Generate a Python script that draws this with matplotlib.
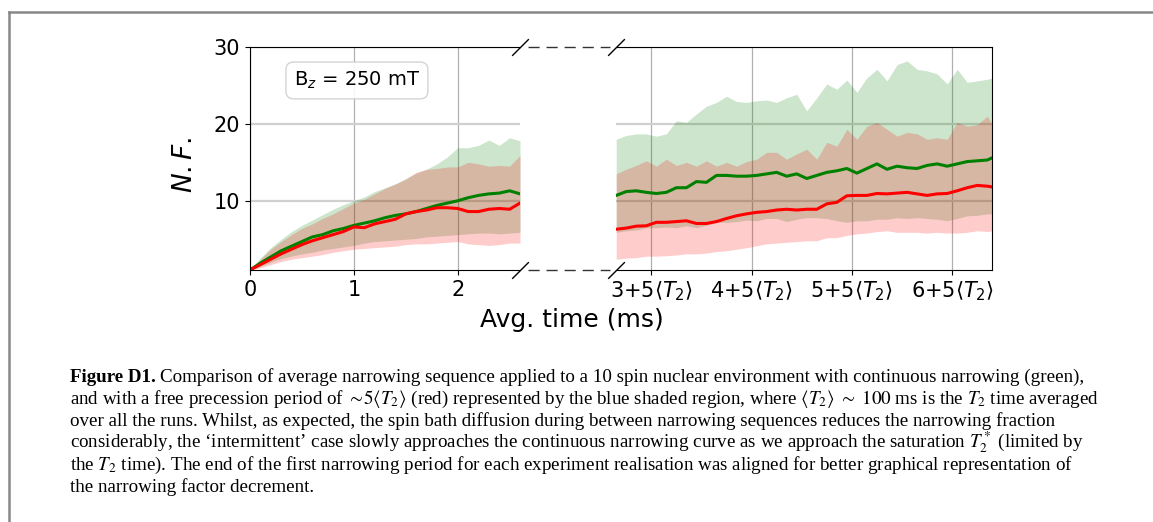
import numpy as np
import matplotlib
matplotlib.use("Agg")
import matplotlib.pyplot as plt
from matplotlib.lines import Line2D

# ---- data ----
# first panel: continuous narrowing (green) vs intermittent (red)
t_left = np.linspace(0, 2.6, 27)
green_mean_l = [1.0, 1.9, 2.7, 3.5, 4.1, 4.7, 5.3, 5.6, 6.1, 6.4, 6.8, 7.1, 7.4, 7.8,
                8.1, 8.3, 8.6, 9.0, 9.4, 9.7, 10.0, 10.4, 10.7, 10.9, 11.0, 11.3, 10.9]
green_top_l = [1.0, 2.6, 3.9, 5.0, 6.0, 6.8, 7.5, 8.2, 8.9, 9.5, 10.0, 10.5, 11.2, 11.7,
               12.2, 12.9, 13.6, 14.1, 14.8, 15.7, 16.9, 16.9, 17.2, 17.9, 17.2, 18.2, 17.8]
green_bot_l = [1.0, 1.5, 2.0, 2.5, 2.8, 3.1, 3.3, 3.6, 3.8, 4.0, 4.2, 4.5, 4.7, 4.8,
               4.9, 5.0, 5.1, 5.3, 5.4, 5.5, 5.6, 5.7, 5.8, 5.8, 5.7, 5.8, 5.9]
red_mean_l = [1.0, 1.7, 2.4, 3.1, 3.7, 4.3, 4.8, 5.2, 5.6, 6.0, 6.6, 6.5, 7.0, 7.3,
              7.6, 8.3, 8.6, 8.8, 9.1, 9.1, 9.0, 8.6, 8.6, 8.9, 9.0, 8.9, 9.7]
red_top_l = [1.0, 2.4, 3.7, 4.7, 5.6, 6.4, 7.0, 7.7, 8.3, 9.0, 9.7, 10.2, 10.9, 11.6,
             12.2, 12.8, 13.7, 14.1, 14.2, 14.4, 14.4, 15.0, 14.8, 14.5, 14.6, 14.5, 15.9]
red_bot_l = [1.0, 1.3, 1.7, 2.1, 2.4, 2.6, 2.8, 3.0, 3.3, 3.5, 3.7, 3.8, 3.9, 4.0,
             4.1, 4.3, 4.4, 4.4, 4.5, 4.6, 4.7, 4.4, 4.3, 4.2, 4.3, 4.5, 4.5]

# second panel: after the free precession period
t_right = np.append(np.linspace(2.65, 6.35, 38), 6.40)
green_mean_r = [10.7, 11.2, 11.3, 11.1, 10.95, 11.1, 11.7, 11.7, 12.5, 12.4, 13.3, 13.3, 13.2,
                13.2, 13.3, 13.5, 13.7, 13.2, 13.5, 12.9, 13.3, 13.7, 13.9, 14.2, 13.6, 14.2,
                14.8, 14.1, 14.5, 14.3, 14.2, 14.6, 14.8, 14.5, 14.8, 15.1, 15.2, 15.3, 15.6]
green_top_r = [18.0, 18.5, 18.7, 18.7, 18.4, 18.7, 20.4, 20.2, 21.3, 22.3, 22.8, 23.6, 22.9,
               22.8, 23.0, 23.1, 22.8, 23.4, 23.85, 21.7, 23.4, 25.2, 24.5, 25.7, 24.1, 26.0,
               27.1, 25.6, 27.7, 28.2, 27.1, 26.9, 26.5, 25.2, 27.1, 25.4, 25.6, 25.8, 26.0]
green_bot_r = [5.9, 6.1, 6.2, 6.5, 6.5, 6.6, 6.5, 6.75, 6.5, 6.8, 7.2, 7.2, 7.3,
               7.5, 7.4, 7.7, 7.7, 7.3, 7.6, 7.8, 7.8, 7.7, 7.4, 7.2, 7.4, 7.4,
               7.6, 7.6, 7.8, 7.7, 7.8, 7.7, 7.6, 7.4, 7.7, 8.05, 8.1, 8.3, 8.3]
red_mean_r = [6.3, 6.45, 6.7, 6.75, 7.2, 7.2, 7.3, 7.4, 7.05, 7.05, 7.3, 7.7, 8.05,
              8.3, 8.5, 8.6, 8.8, 8.9, 8.8, 8.9, 8.9, 9.6, 9.8, 10.65, 10.7, 10.7,
              10.95, 10.9, 11.0, 11.1, 10.9, 10.7, 10.9, 10.95, 11.3, 11.7, 12.0, 11.9, 11.8]
red_top_r = [13.5, 14.1, 14.6, 15.2, 14.5, 15.4, 14.6, 15.0, 14.5, 15.2, 14.5, 15.0, 14.5,
             15.1, 15.4, 16.3, 16.3, 15.4, 16.1, 16.7, 15.4, 17.6, 17.1, 19.3, 18.0, 19.7,
             20.2, 19.3, 18.4, 18.9, 18.7, 18.0, 18.2, 18.0, 20.2, 19.7, 19.9, 21.0, 19.9]
red_bot_r = [2.4, 2.55, 2.6, 2.8, 2.8, 2.85, 2.95, 3.1, 3.1, 3.2, 3.4, 3.5, 3.7,
             3.9, 4.15, 4.4, 4.5, 4.6, 4.7, 4.8, 4.8, 5.2, 5.2, 5.5, 5.7, 5.8,
             6.0, 6.1, 5.9, 5.9, 5.9, 5.8, 5.9, 5.8, 5.8, 5.9, 6.1, 6.0, 6.1]

left_ticks = [0, 1, 2]
right_ticks = [3, 4, 5, 6]
right_ticklabels = [r"%d+5$\langle T_2\rangle$" % k for k in right_ticks]
y_ticks = [10, 20, 30]

caption = [
    "Comparison of average narrowing sequence applied to a 10 spin nuclear environment with continuous narrowing (green),",
    r"and with a free precession period of $\sim\!5\langle T_2\rangle$ (red) represented by the blue shaded region, where $\langle T_2\rangle\ \sim\ 100$ ms is the $T_2$ time averaged",
    "over all the runs. Whilst, as expected, the spin bath diffusion during between narrowing sequences reduces the narrowing fraction",
    r"considerably, the ‘intermittent’ case slowly approaches the continuous narrowing curve as we approach the saturation $T_2^*$ (limited by",
    r"the $T_2$ time). The end of the first narrowing period for each experiment realisation was aligned for better graphical representation of",
    "the narrowing factor decrement.",
]

W, H = 1153, 522
fig = plt.figure(figsize=(W / 100, H / 100), dpi=100)

axl = fig.add_axes([250 / W, 1 - 270 / H, 270 / W, 223 / H])
axr = fig.add_axes([616 / W, 1 - 270 / H, 376.3 / W, 223 / H])

LS = 15
for ax, t, gm, gt, gb, rm, rt, rb in [
        (axl, t_left, green_mean_l, green_top_l, green_bot_l, red_mean_l, red_top_l, red_bot_l),
        (axr, t_right, green_mean_r, green_top_r, green_bot_r, red_mean_r, red_top_r, red_bot_r)]:
    ax.fill_between(t, gb, gt, color="green", alpha=0.2, lw=0)
    ax.fill_between(t, rb, rt, color="red", alpha=0.2, lw=0)
    ax.plot(t, gm, color="green", lw=2.2)
    ax.plot(t, rm, color="red", lw=2.2)
    ax.set_ylim(1, 30)
    ax.grid(axis="x", color="#b0b0b0", lw=0.9)
    ax.grid(axis="y", color="#d0d0d0", lw=1.6)
    ax.set_axisbelow(True)
    ax.tick_params(axis="both", labelsize=LS)

axl.set_xlim(0, 2.6)
axl.set_xticks(left_ticks)
axl.set_yticks(y_ticks)
axl.spines["right"].set_visible(False)

axr.set_xlim(2.648, 6.40)
axr.set_xticks(right_ticks)
axr.set_xticklabels(right_ticklabels)
axr.set_yticks(y_ticks)
axr.tick_params(axis="y", left=False, labelleft=False)
axr.spines["left"].set_visible(False)

# break marks
kw = dict(marker=[(-1, -1), (1, 1)], markersize=12, linestyle="none",
          color="k", mec="k", mew=1, clip_on=False)
axl.plot([1, 1], [0, 1], transform=axl.transAxes, **kw)
axr.plot([0, 0], [0, 1], transform=axr.transAxes, **kw)
for yy in (270, 47):
    fig.add_artist(Line2D([528 / W, 610 / W], [1 - yy / H, 1 - yy / H],
                          color="#333333", lw=1, ls=(0, (8, 5))))

axl.text(0.396, 0.85, r"B$_z$ = 250 mT", transform=axl.transAxes, fontsize=14,
         ha="center", va="center",
         bbox=dict(boxstyle="round,pad=0.4", fc="white", ec="#d0d0d0", alpha=0.9))

fig.text(185 / W, 1 - 165 / H, r"$N.F.$", rotation=90, fontsize=19, ha="center", va="center")
fig.text(572 / W, 1 - 320 / H, "Avg. time (ms)", fontsize=18, ha="center", va="center")

# frame around the figure area
fig.add_artist(Line2D([9 / W, 9 / W], [0, 1 - 12 / H], color="#888888", lw=1.8))
fig.add_artist(Line2D([9 / W, 1], [1 - 12 / H, 1 - 12 / H], color="#888888", lw=1.8))

# caption
cap_font = "Liberation Serif"
CS = 13.7
renderer = fig.canvas.get_renderer()
x0 = 70 / W
bold = fig.text(x0, 1 - 382 / H, "Figure D1.", fontsize=CS, family=cap_font,
                weight="bold", va="baseline")
bb = bold.get_window_extent(renderer)
for i, line in enumerate(caption):
    yb = 1 - (382 + 22 * i) / H
    xs = (bb.x1 + 4) / W if i == 0 else x0
    fig.text(xs, yb, line, fontsize=CS, family=cap_font, va="baseline",
             math_fontfamily="stix")

fig.savefig("out.png", dpi=100)
